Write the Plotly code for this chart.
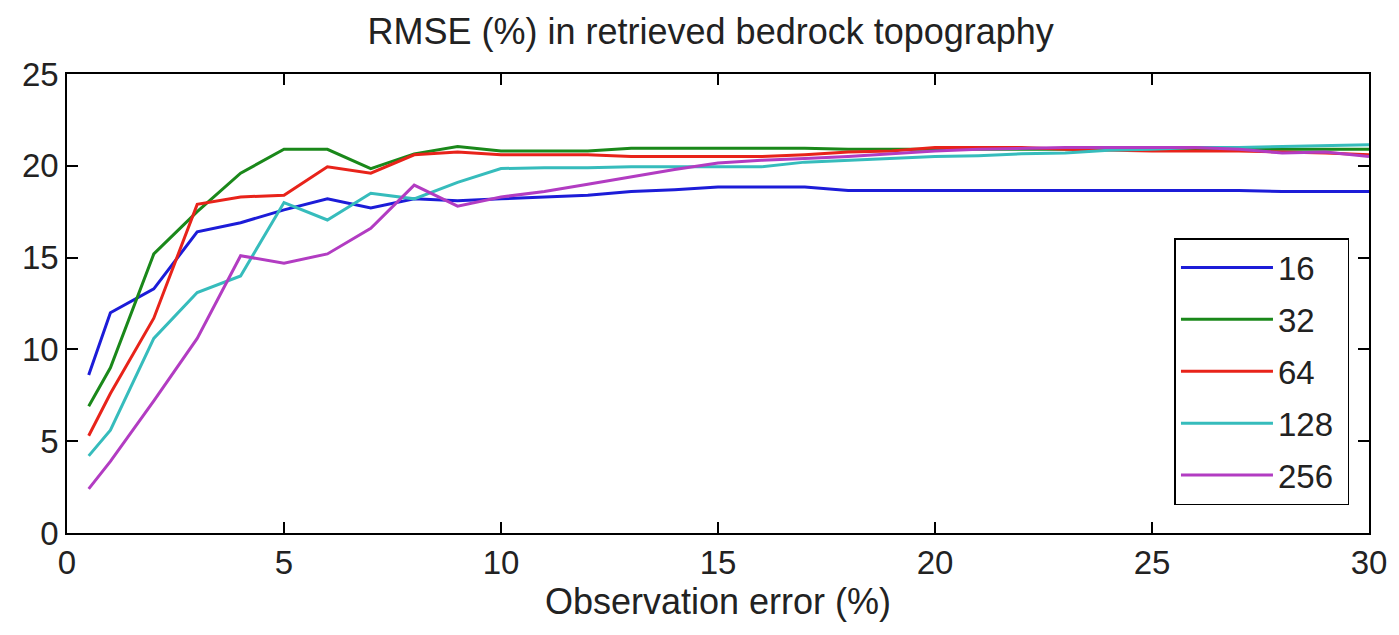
import plotly.graph_objects as go

x_err = [0.5, 1, 2, 3, 4, 5, 6, 7, 8, 9, 10, 11, 12, 13, 14, 15, 16, 17, 18, 19, 20,
         21, 22, 23, 24, 25, 26, 27, 28, 29, 30]

rmse_16 = [8.6, 12.0, 13.3, 16.4, 16.9, 17.6, 18.2, 17.7, 18.2, 18.1, 18.2, 18.3, 18.4, 18.6, 18.7,
           18.85, 18.85, 18.85, 18.65, 18.65, 18.65, 18.65, 18.65, 18.65, 18.65, 18.65, 18.65, 18.65,
           18.6, 18.6, 18.6]
rmse_32 = [6.9, 9.0, 15.2, 17.5, 19.6, 20.9, 20.9, 19.85, 20.65, 21.05, 20.8, 20.8, 20.8, 20.95, 20.95,
           20.95, 20.95, 20.95, 20.9, 20.9, 20.9, 20.9, 20.9, 20.9, 20.9, 20.9, 20.9, 20.9, 20.9, 20.9,
           20.9]
rmse_64 = [5.3, 7.6, 11.7, 17.9, 18.3, 18.4, 19.95, 19.6, 20.6, 20.75, 20.6, 20.6, 20.6, 20.5, 20.5,
           20.5, 20.5, 20.6, 20.75, 20.8, 21.0, 21.0, 21.0, 20.9, 20.85, 20.8, 20.8, 20.8, 20.75, 20.7,
           20.6]
rmse_128 = [4.2, 5.6, 10.6, 13.1, 14.0, 18.0, 17.05, 18.5, 18.2, 19.1, 19.85, 19.9, 19.9, 19.95, 19.95,
            19.95, 19.95, 20.2, 20.3, 20.4, 20.5, 20.55, 20.65, 20.7, 20.85, 20.9, 21.0, 21.0, 21.05,
            21.1, 21.15]
rmse_256 = [2.4, 3.9, 7.2, 10.6, 15.1, 14.7, 15.2, 16.6, 18.95, 17.8, 18.3, 18.6, 19.0, 19.4, 19.8,
            20.15, 20.3, 20.4, 20.5, 20.65, 20.8, 20.9, 20.95, 21.0, 21.0, 21.0, 21.0, 20.9, 20.7, 20.75,
            20.5]

series_names = ["16", "32", "64", "128", "256"]
series_values = [rmse_16, rmse_32, rmse_64, rmse_128, rmse_256]
series_colors = ["#1c1cd8", "#1a881a", "#e8231a", "#36bcbc", "#b23cc2"]

x_ticks = [0, 5, 10, 15, 20, 25, 30]
y_ticks = [0, 5, 10, 15, 20, 25]

FONT = "Liberation Sans, Arial, sans-serif"

fig = go.Figure()
for name, vals, col in zip(series_names, series_values, series_colors):
    fig.add_trace(go.Scatter(x=x_err, y=vals, mode="lines", name=name + "\u00a0", legendgroup=name,
                             line=dict(color=col, width=3)))

axis_common = dict(showline=True, linecolor="black", linewidth=1.5, mirror="allticks",
                   ticks="inside", ticklen=11, tickwidth=1.5, tickcolor="black",
                   showgrid=False, zeroline=False,
                   tickfont=dict(family=FONT, size=33, color="#222"))

fig.update_layout(
    width=1399, height=635,
    margin=dict(l=67, r=26, t=74, b=102),
    paper_bgcolor="white", plot_bgcolor="white",
    title=dict(text="RMSE (%) in retrieved bedrock topography", x=0.508, xanchor="center",
               y=0.95, yanchor="middle", xref="container",
               font=dict(family=FONT, size=36, color="#222")),
    xaxis=dict(range=[0, 30], tickvals=x_ticks, ticktext=[str(v) for v in x_ticks],
               title=dict(text="Observation error (%)", font=dict(family=FONT, size=36, color="#222"),
                          standoff=8),
               **axis_common),
    yaxis=dict(range=[0, 25], tickvals=y_ticks, ticktext=[str(v) for v in y_ticks],
               **axis_common),
    legend=dict(x=0.985, xanchor="right", y=0.061, yanchor="bottom",
                bordercolor="black", borderwidth=1.5, bgcolor="white",
                font=dict(family=FONT, size=33, color="#222"),
                itemwidth=92, tracegroupgap=6),
    showlegend=True,
)

fig.write_html("out.html")
